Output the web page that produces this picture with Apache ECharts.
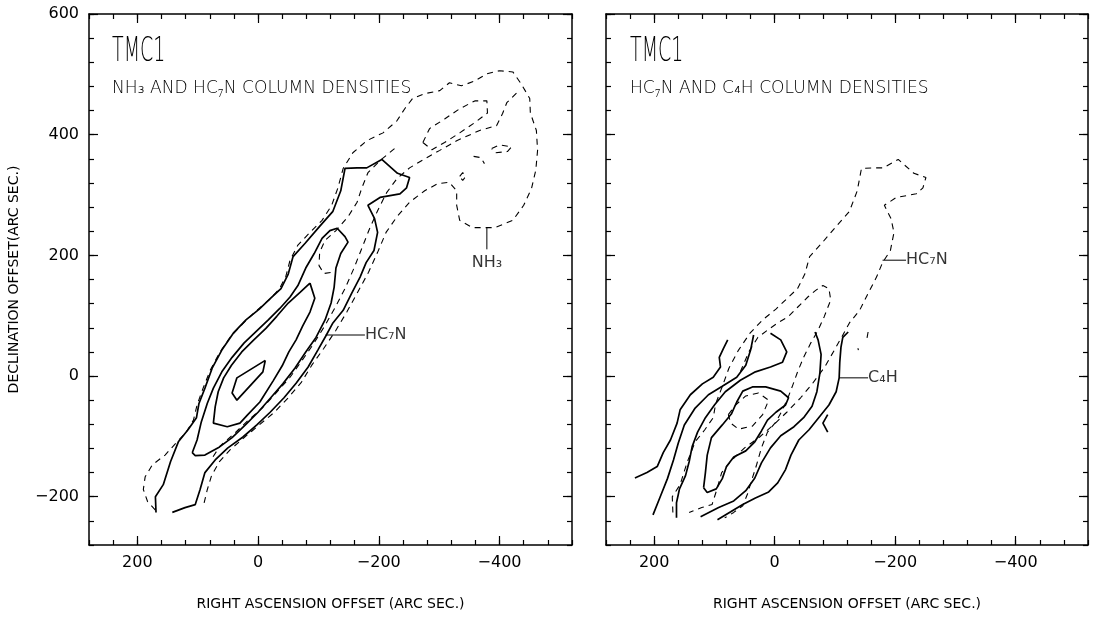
<!DOCTYPE html>
<html>
<head>
<meta charset="utf-8">
<title>TMC1 column densities</title>
<script src="https://cdn.jsdelivr.net/npm/echarts@6/dist/echarts.min.js"></script>
<style>
html, body { margin: 0; padding: 0; background: #fff; }
#chart { width: 1096px; height: 619px; }
</style>
</head>
<body>
<div id="chart"></div>
<script>
// axis ranges and labelled ticks (arc sec)
var raLim = [-520, 280];
var decLim = [-280, 600];
var raTicks = [200, 0, -200, -400];
var decTicks = [600, 400, 200, 0, -200];

// HC7N contours [ra offset, dec offset], outer -> inner
var hc7n1 = [[169,-226],[170,-200],[157,-180],[145,-142],[132,-109],[116,-89],[102,-69],[98,-46],[88,-20],[76,13],[60,43],[41,71],[20,93],[-2,111],[-21,129],[-38,145],[-50,169],[-58,198],[-78,220],[-102,248],[-124,273],[-137,307],[-144,344],[-164,345],[-180,345],[-205,359],[-231,336],[-251,329],[-246,312],[-235,302],[-202,296],[-182,283],[-193,261],[-198,238],[-192,208],[-179,188],[-169,164],[-155,137],[-141,109],[-124,88],[-112,66],[-99,43],[-83,15],[-63,-12],[-43,-36],[-20,-60],[2,-81],[25,-101],[50,-119],[71,-139],[88,-160],[96,-188],[104,-213],[121,-218],[142,-226]];
var hc7n2 = [[109,-127],[101,-106],[94,-76],[84,-45],[74,-20],[60,7],[43,31],[23,55],[3,74],[-17,93],[-36,112],[-53,131],[-66,150],[-79,179],[-93,203],[-106,228],[-119,241],[-131,245],[-144,231],[-149,222],[-137,203],[-129,179],[-126,147],[-121,121],[-111,93],[-96,64],[-79,40],[-61,13],[-41,-13],[-21,-36],[0,-60],[21,-81],[43,-102],[66,-119],[88,-131],[104,-132],[109,-127]];
var hc7n3 = [[-86,154],[-94,129],[-86,106],[-74,83],[-63,60],[-51,40],[-40,17],[-25,-8],[-3,-43],[17,-64],[30,-78],[51,-84],[74,-78],[71,-51],[66,-26],[57,-3],[44,18],[27,40],[7,60],[-13,79],[-31,99],[-50,121],[-70,139],[-86,154]];
var hc7n4 = [[-12,26],[35,-3],[43,-28],[35,-40],[-8,7],[-12,26]];

// NH3 contours
var nh3a = [[170,-222],[183,-208],[190,-188],[187,-167],[175,-147],[154,-131],[136,-111],[119,-93],[107,-73],[101,-48],[91,-20],[79,10],[63,40],[45,66],[23,89],[2,109],[-18,126],[-35,144],[-46,165],[-53,192],[-66,217],[-86,238],[-106,258],[-122,283],[-132,311],[-141,344],[-157,370],[-180,390],[-207,403],[-230,423],[-243,443],[-256,460],[-276,468],[-301,473],[-317,486],[-337,481],[-359,489],[-379,501],[-400,506],[-422,504],[-436,484],[-450,460],[-451,436],[-461,407],[-463,374],[-460,341],[-453,311],[-440,283],[-422,258],[-392,246],[-355,246],[-334,258],[-329,283],[-329,307],[-317,321],[-298,319],[-276,307],[-251,288],[-230,264],[-212,238],[-198,205],[-183,172],[-165,139],[-147,106],[-129,76],[-109,46],[-89,18],[-72,-10],[-50,-36],[-27,-60],[-2,-81],[23,-102],[46,-122],[64,-142],[77,-165],[84,-188],[90,-213]];
var nh3b = [[-428,469],[-412,453],[-405,435],[-395,415],[-367,407],[-329,390],[-301,374],[-276,360],[-251,345],[-230,327],[-213,304],[-198,274],[-185,245],[-172,212],[-159,179],[-144,145],[-129,116],[-111,84],[-93,55],[-73,26],[-53,-2],[-30,-28],[-7,-53],[17,-74],[40,-96],[63,-116],[76,-136]];
var nh3c = [[-226,377],[-202,357],[-182,337],[-172,312],[-164,288],[-149,264],[-129,241],[-111,225],[-102,205],[-101,183],[-109,170],[-124,172]];
var nh3d = [[-273,387],[-284,410],[-309,426],[-334,443],[-359,456],[-379,456],[-380,436],[-359,420],[-334,403],[-309,387],[-288,375],[-273,387]];
var nh3e = [[-334,331],[-339,337],[-344,331],[-339,324],[-334,331]];
var nh3f = [[-357,364],[-369,362],[-375,352]];
var nh3g = [[-387,377],[-400,383],[-420,380],[-413,372],[-393,370],[-387,377]];

// HC7N on the second map (outer one is hc7n1)
var hc7nB2 = [[57,7],[43,40],[28,64],[12,76],[-5,88],[-22,98],[-38,114],[-55,131],[-68,142],[-80,150],[-90,145],[-93,126],[-82,98],[-72,76],[-60,55],[-48,31],[-38,7],[-30,-15],[-22,-36],[-13,-56],[-2,-76],[12,-93],[22,-119],[30,-147],[38,-172],[45,-195],[53,-215],[68,-226],[83,-235]];
var hc7nB3 = [[77,-64],[65,-48],[48,-33],[27,-28],[10,-40],[20,-64],[37,-83],[60,-88],[73,-78],[77,-64]];
var hc7nB4 = [[-155,73],[-152,56]];
var hc7nB5 = [[-138,46],[-139,43]];

// C4H contours
var c4h1 = [[232,-169],[212,-160],[195,-150],[185,-127],[173,-106],[162,-78],[157,-56],[140,-31],[120,-13],[102,-2],[90,15],[92,31],[85,46],[78,60]];
var c4h2 = [[202,-230],[190,-200],[178,-170],[168,-139],[160,-111],[150,-81],[132,-53],[110,-31],[87,-17],[63,-2],[48,18],[40,43],[35,68]];
var c4h3 = [[7,71],[-10,60],[-20,40],[-13,23],[7,15],[32,7],[57,-7],[82,-26],[100,-48],[115,-69],[128,-93],[137,-117],[142,-142],[148,-165],[158,-187],[163,-210],[163,-235]];
var c4h4 = [[118,-185],[115,-160],[112,-131],[105,-102],[87,-81],[72,-63],[63,-43],[53,-25],[37,-18],[15,-18],[-10,-25],[-23,-36],[-18,-48],[-2,-60],[12,-73],[22,-91],[33,-109],[48,-124],[68,-134],[80,-150],[87,-170],[97,-187],[112,-193],[118,-185]];
var c4h5 = [[123,-233],[93,-218],[68,-207],[48,-190],[33,-169],[22,-144],[7,-119],[-10,-99],[-32,-84],[-48,-69],[-62,-50],[-70,-26],[-75,5],[-77,36],[-72,60],[-67,73]];
var c4h6 = [[95,-238],[73,-225],[53,-213],[32,-202],[10,-192],[-5,-177],[-18,-155],[-27,-131],[-40,-106],[-57,-89],[-73,-69],[-90,-48],[-102,-26],[-107,-3],[-108,23],[-110,48],[-113,64],[-122,73]];
var c4h7 = [[-88,-64],[-80,-78],[-88,-93]];

// label leaders
var leadHc7nA = [[-112,68],[-177,68]];
var leadNh3 = [[-379,246],[-379,210]];
var leadHc7nB = [[-179,192],[-218,192]];
var leadC4h = [[-107,-3],[-155,-3]];

var FONT = 'DejaVu Sans';

function fmtTick(v) {
    return v < 0 ? '\u2212' + Math.abs(v) : String(v);
}

// one side of the frame: a minor-tick axis (with line/labels) and a major-tick one on top of it
function frameAxes(dim, grid, side, labels, name) {
    var lim = dim === 'x' ? raLim : decLim;
    var major = dim === 'x' ? raTicks : decTicks;
    var common = {
        gridIndex: grid, type: 'value', min: lim[0], max: lim[1], interval: 40,
        position: side, inverse: dim === 'x', splitLine: {show: false}
    };
    var minorAx = Object.assign({}, common, {
        axisLine: {show: true, onZero: false, lineStyle: {color: '#000', width: 1.5}},
        axisTick: {show: true, inside: true, length: 5, lineStyle: {color: '#000', width: 1.2}},
        axisLabel: {
            show: !!labels, margin: 10, color: '#000', fontFamily: FONT, fontSize: 16,
            formatter: function (v) { return major.indexOf(v) >= 0 ? fmtTick(v) : ''; }
        }
    });
    if (name) {
        minorAx.name = name;
        minorAx.nameLocation = 'middle';
        minorAx.nameTextStyle = {color: '#000', fontFamily: FONT, fontSize: 14};
        if (dim === 'x') {
            minorAx.nameGap = 52;
        } else {
            minorAx.nameGap = 68;
            minorAx.nameRotate = 90;
        }
    }
    var majorAx = Object.assign({}, common, {
        axisLine: {show: false, onZero: false},
        axisTick: {show: true, inside: true, length: 9, customValues: major, lineStyle: {color: '#000', width: 1.2}},
        axisLabel: {show: false}
    });
    return [minorAx, majorAx];
}

var xAxes = [], yAxes = [];
[0, 1].forEach(function (g) {
    xAxes = xAxes.concat(frameAxes('x', g, 'bottom', true, 'RIGHT ASCENSION OFFSET (ARC SEC.)'));
    xAxes = xAxes.concat(frameAxes('x', g, 'top', false));
    yAxes = yAxes.concat(frameAxes('y', g, 'left', g === 0, g === 0 ? 'DECLINATION OFFSET(ARC SEC.)' : null));
    yAxes = yAxes.concat(frameAxes('y', g, 'right', false));
});

var series = [];
function addLine(data, g, dashed, width) {
    series.push({
        type: 'line', xAxisIndex: g * 4, yAxisIndex: g * 4, data: data,
        symbol: 'none', showSymbol: false, silent: true, smooth: false,
        lineStyle: {color: '#000', width: width || (dashed ? 1.1 : 1.7), type: dashed ? [6, 5] : 'solid'}
    });
}
function addText(pt, g, text, pos) {
    series.push({
        type: 'scatter', xAxisIndex: g * 4, yAxisIndex: g * 4, data: [pt],
        symbolSize: 0, silent: true,
        label: {show: true, position: pos, distance: 0, formatter: text, color: '#000', fontFamily: FONT, fontSize: 16}
    });
}

// left map: NH3 dashed, HC7N solid
[nh3a, nh3b, nh3c, nh3d, nh3e, nh3f, nh3g].forEach(function (d) { addLine(d, 0, true); });
[hc7n1, hc7n2, hc7n3, hc7n4].forEach(function (d) { addLine(d, 0, false); });
addLine(leadHc7nA, 0, false, 1);
addLine(leadNh3, 0, false, 1);
addText(leadHc7nA[1], 0, 'HC\u2087N', 'right');
addText([-379, 187], 0, 'NH\u2083', 'inside');

// right map: HC7N dashed, C4H solid
[hc7n1, hc7nB2, hc7nB3, hc7nB4, hc7nB5].forEach(function (d) { addLine(d, 1, true); });
[c4h1, c4h2, c4h3, c4h4, c4h5, c4h6, c4h7].forEach(function (d) { addLine(d, 1, false); });
addLine(leadHc7nB, 1, false, 1);
addLine(leadC4h, 1, false, 1);
addText(leadHc7nB[1], 1, 'HC\u2087N', 'right');
addText(leadC4h[1], 1, 'C\u2084H', 'right');

// plotter-style headings, squeezed sideways
function titleText(x, y, text, size, sx) {
    return {
        type: 'text', x: x, y: y, scaleX: sx, silent: true,
        style: {text: text, font: '200 ' + size + 'px "' + FONT + '"', fill: '#000', verticalAlign: 'middle', align: 'left'}
    };
}

var option = {
    animation: false,
    backgroundColor: '#fff',
    grid: [
        {left: 89, top: 14, width: 483, height: 531},
        {left: 606, top: 14, width: 482, height: 531}
    ],
    xAxis: xAxes,
    yAxis: yAxes,
    series: series,
    graphic: [
        titleText(112, 52, 'TMC1', 34, 0.56),
        titleText(112, 88, 'NH\u2083 AND HC\u2087N COLUMN DENSITIES', 18, 0.95),
        titleText(630, 52, 'TMC1', 34, 0.56),
        titleText(630, 88, 'HC\u2087N AND C\u2084H COLUMN DENSITIES', 18, 0.95)
    ]
};

var myChart = echarts.init(document.getElementById('chart'));
myChart.setOption(option);
</script>
</body>
</html>
